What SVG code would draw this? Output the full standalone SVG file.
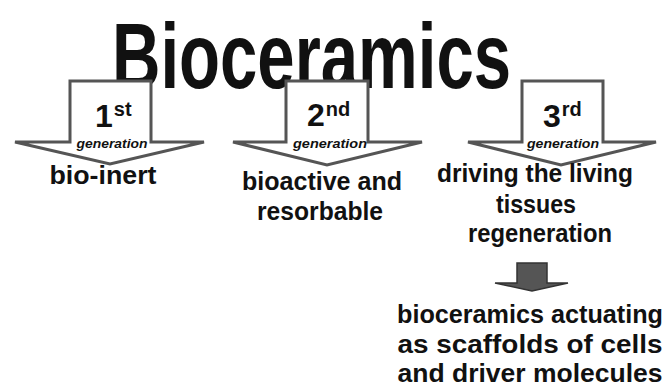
<svg xmlns="http://www.w3.org/2000/svg" width="669" height="390" viewBox="0 0 669 390">
<style>
.t{font-family:"Liberation Sans","DejaVu Sans",sans-serif;font-weight:bold;fill:#111}
.m{font-size:25px;text-anchor:middle}
.g{font-size:12px;text-anchor:middle;font-style:italic}
.n{font-size:32px}
.s{font-size:20px}
.arr{fill:#fff;stroke:#555;stroke-width:3;stroke-linejoin:miter}
.small{fill:#555;stroke:#333;stroke-width:1.5}
</style>
<rect width="669" height="390" fill="#fff"/>
<g id="title"><text class="t" x="112" y="88" font-size="92" textLength="399" lengthAdjust="spacingAndGlyphs">Bioceramics</text></g>
<g id="gen1">
<path class="arr" d="M70 81 H151 V142 H204 L110 164 L15 142 H70 Z"/>
<text class="t n" x="95" y="127">1<tspan class="s" dx="1" dy="-11">st</tspan></text>
<text class="t g" x="112" y="148" textLength="71" lengthAdjust="spacingAndGlyphs">generation</text>
<text class="t m" x="103" y="184" textLength="107" lengthAdjust="spacingAndGlyphs">bio-inert</text>
</g>
<g id="gen2">
<path class="arr" d="M286 81 H368 V142 H422 L327 165 L233 142 H286 Z"/>
<text class="t n" x="307" y="126">2<tspan class="s" dx="1" dy="-10">nd</tspan></text>
<text class="t g" x="330" y="148" textLength="74" lengthAdjust="spacingAndGlyphs">generation</text>
<text class="t m" x="322" y="190" textLength="160" lengthAdjust="spacingAndGlyphs">bioactive and</text>
<text class="t m" x="320" y="220" textLength="126" lengthAdjust="spacingAndGlyphs">resorbable</text>
</g>
<g id="gen3">
<path class="arr" d="M522 81 H603 V142 H656 L561 165 L468 142 H522 Z"/>
<text class="t n" x="543" y="127">3<tspan class="s" dx="1" dy="-11">rd</tspan></text>
<text class="t g" x="563" y="148" textLength="72" lengthAdjust="spacingAndGlyphs">generation</text>
<text class="t m" x="535" y="182" textLength="196" lengthAdjust="spacingAndGlyphs">driving the living</text>
<text class="t m" x="536" y="213" textLength="80" lengthAdjust="spacingAndGlyphs">tissues</text>
<text class="t m" x="540" y="242" textLength="144" lengthAdjust="spacingAndGlyphs">regeneration</text>
</g>
<g id="connectors">
<path class="small" d="M517 263 H547 V283 H568 L532 291 L495 283 H517 Z"/>
</g>
<g id="result">
<text class="t m" x="530" y="323" textLength="266" lengthAdjust="spacingAndGlyphs">bioceramics actuating</text>
<text class="t m" x="530" y="353" textLength="265" lengthAdjust="spacingAndGlyphs">as scaffolds of cells</text>
<text class="t m" x="530" y="382" textLength="265" lengthAdjust="spacingAndGlyphs">and driver molecules</text>
</g>
</svg>
